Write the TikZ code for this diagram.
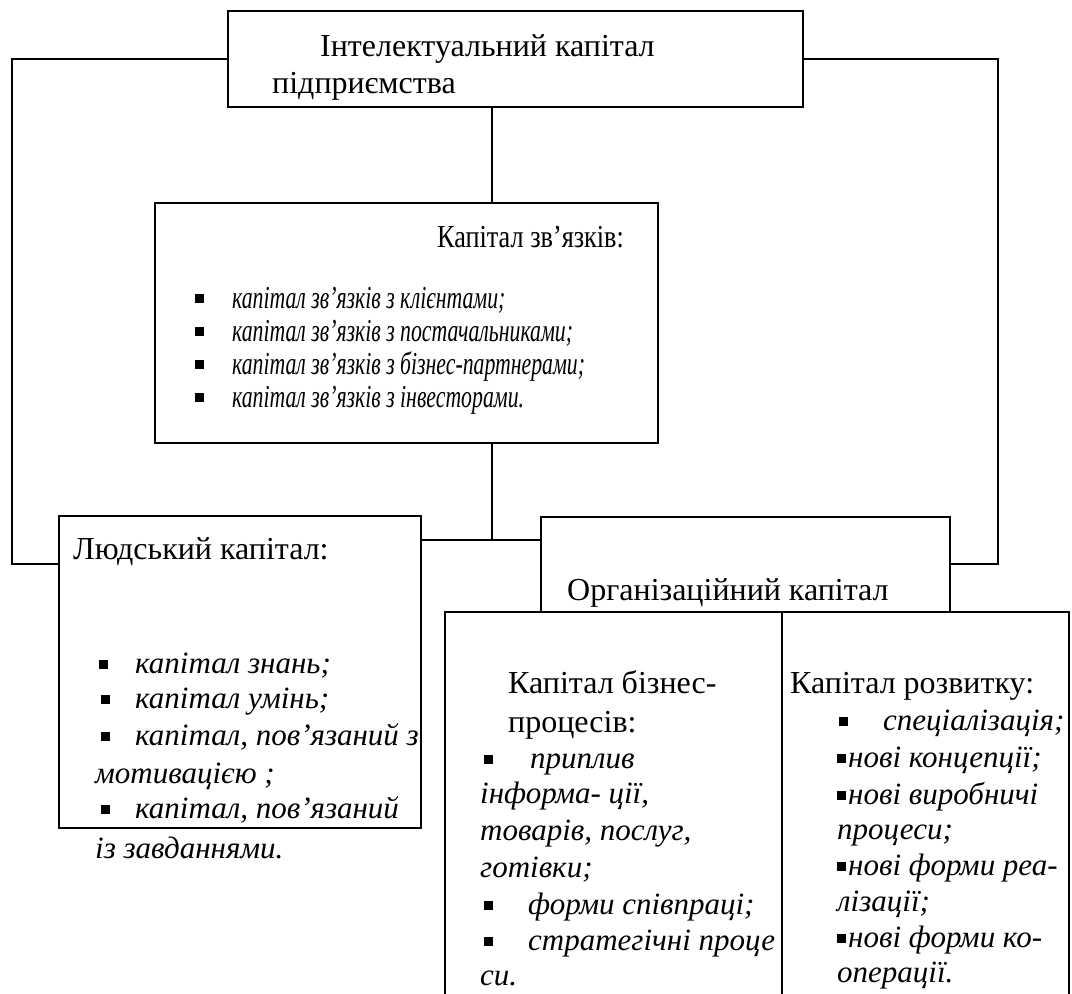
\documentclass[tikz,border=0pt]{standalone}
\usepackage{fontspec}
\setmainfont{Liberation Serif}
\usetikzlibrary{calc}
\begin{document}
\begin{tikzpicture}[x=1pt,y=-1pt,
  box/.style={draw, line width=1.5pt, inner sep=0pt, outer sep=0pt, anchor=north west},
  conn/.style={line width=1.5pt},
  lbl/.style={anchor=base west, inner sep=0pt, font=\fontsize{32}{38}\selectfont},
  itl/.style={anchor=base west, inner sep=0pt, font=\fontsize{31}{37}\selectfont\itshape},
  itc/.style={anchor=base west, inner sep=0pt, font=\fontsize{32}{38}\selectfont\itshape, xscale=0.68, transform shape},
  blt/.style={fill, minimum size=9pt, inner sep=0pt, outer sep=0pt}]
\useasboundingbox (0,0) rectangle (1072,994);
\clip (0,0) rectangle (1072,994);
% boxes
\node[box, minimum width=575pt, minimum height=96pt] (top) at (228,11) {};
\node[box, minimum width=503pt, minimum height=240pt] (rel) at (155,203) {};
\node[box, minimum width=362pt, minimum height=312pt] (human) at (59,516) {};
\node[box, minimum width=409pt, minimum height=95pt] (org) at (541,517) {};
\node[box, minimum width=624pt, minimum height=420pt] (lower) at (445,612) {};
\coordinate (dv) at (782,612);
\draw[conn] (dv) -- (dv |- lower.south);
% connectors
\coordinate (j) at (492,540);
\coordinate (lc) at (12,564);
\coordinate (rc) at (998,564);
\draw[conn] (top.south -| j) -- (rel.north -| j);
\draw[conn] (rel.south -| j) -- (j);
\draw[conn] (human.east |- j) -- (org.west |- j);
\draw[conn] (top.west) -| (lc) -- (human.west |- lc);
\draw[conn] (top.east) -| (rc) -- (org.east |- rc);
% top text
\node[lbl] (t1) at (320,56) {Інтелектуальний капітал};
\node[lbl] (t2) at (272,93) {підприємства};
% relations capital
\node[lbl, xscale=0.82, transform shape] (r0) at (437,247) {Капітал зв’язків:};
\node[blt] (rb1) at (199,298) {};
\node[itc] (r1) at (232,308) {капітал зв’язків з клієнтами;};
\node[blt] (rb2) at (199,331) {};
\node[itc] (r2) at (232,341) {капітал зв’язків з постачальниками;};
\node[blt] (rb3) at (199,364) {};
\node[itc] (r3) at (232,374) {капітал зв’язків з бізнес-партнерами;};
\node[blt] (rb4) at (199,397) {};
\node[itc] (r4) at (232,407) {капітал зв’язків з інвесторами.};
% human capital
\node[lbl] (h0) at (73,559) {Людський капітал:};
\node[blt] (hb1) at (103,664) {};
\node[itl] (h1) at (135,673) {капітал знань;};
\node[blt] (hb2) at (105,699) {};
\node[itl] (h2) at (135,708) {капітал умінь;};
\node[blt] (hb3) at (105,736) {};
\node[itl] (h3) at (135,745) {капітал, пов’язаний з};
\node[itl] (h4) at (95,783) {мотивацією ;};
\node[blt] (hb5) at (105,809) {};
\node[itl] (h5) at (135,818) {капітал, пов’язаний};
\node[itl] (h6) at (95,858) {із завданнями.};
% organisational capital
\node[lbl] (o0) at (567,600) {Організаційний капітал};
% business processes
\node[lbl] (b0) at (508,693) {Капітал бізнес-};
\node[lbl] (b1) at (508,732) {процесів:};
\node[blt] (bb2) at (488,759) {};
\node[itl] (b2) at (530,768) {приплив};
\node[itl] (b3) at (480,803) {інформа- ції,};
\node[itl] (b4) at (480,840) {товарів, послуг,};
\node[itl] (b5) at (480,877) {готівки;};
\node[blt] (bb6) at (488,905) {};
\node[itl] (b6) at (528,914) {форми співпраці;};
\node[blt] (bb7) at (488,941) {};
\node[itl] (b7) at (528,950) {стратегічні проце};
\node[itl] (b8) at (480,985) {си.};
% development
\node[blt] (db1) at (843,721) {};
\node[lbl] (d0) at (790,693) {Капітал розвитку:};
\node[itl] (d1) at (883,730) {спеціалізація;};
\node[blt] (db2) at (841,758) {};
\node[itl] (d2) at (848,767) {нові концепції;};
\node[blt] (db3) at (841,795) {};
\node[itl] (d3) at (848,804) {нові виробничі};
\node[itl] (d4) at (837,839) {процеси;};
\node[blt] (db5) at (841,866) {};
\node[itl] (d5) at (848,875) {нові форми реа-};
\node[itl] (d6) at (837,911) {лізації;};
\node[blt] (db7) at (841,938) {};
\node[itl] (d7) at (848,947) {нові форми ко-};
\node[itl] (d8) at (837,982) {операції.};
\end{tikzpicture}
\end{document}
